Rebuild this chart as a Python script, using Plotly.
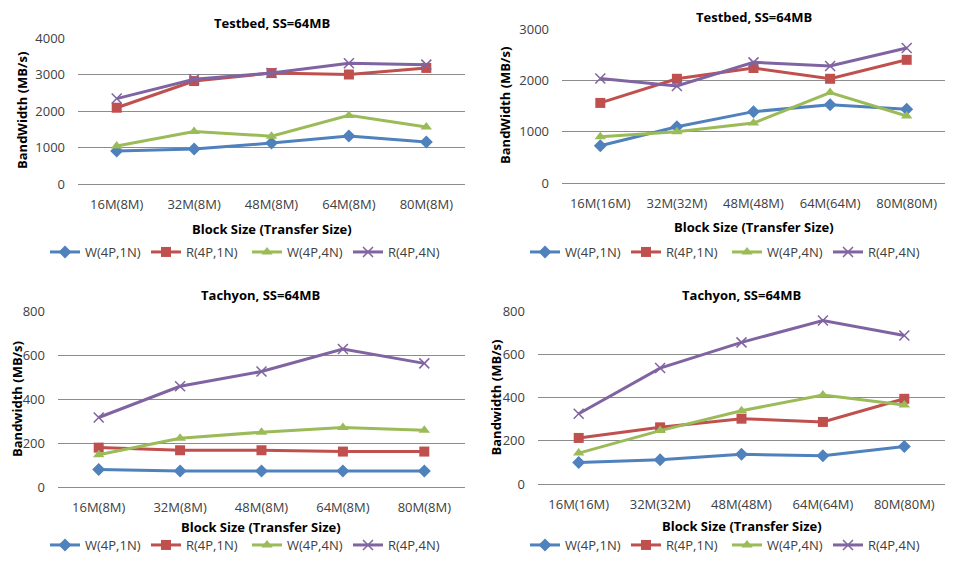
import plotly.graph_objects as go

# ---------------- data ----------------
cats_8m = ["16M(8M)", "32M(8M)", "48M(8M)", "64M(8M)", "80M(8M)"]
cats_eq = ["16M(16M)", "32M(32M)", "48M(48M)", "64M(64M)", "80M(80M)"]
series_names = ["W(4P,1N)", "R(4P,1N)", "W(4P,4N)", "R(4P,4N)"]

# Testbed, transfer 8M
tb8_w1n = [905, 960, 1120, 1315, 1150]
tb8_r1n = [2090, 2820, 3040, 3000, 3180]
tb8_w4n = [1040, 1440, 1310, 1880, 1560]
tb8_r4n = [2340, 2870, 3040, 3310, 3270]

# Testbed, transfer = block
tbeq_w1n = [724, 1096, 1390, 1526, 1435]
tbeq_r1n = [1560, 2030, 2240, 2030, 2400]
tbeq_w4n = [900, 998, 1168, 1761, 1305]
tbeq_r4n = [2035, 1890, 2350, 2280, 2630]

# Tachyon, transfer 8M
ta8_w1n = [79, 73, 73, 73, 73]
ta8_r1n = [179, 167, 167, 161, 161]
ta8_w4n = [147, 222, 249, 270, 258]
ta8_r4n = [316, 458, 525, 627, 562]

# Tachyon, transfer = block
taeq_w1n = [100, 112, 137, 131, 173]
taeq_r1n = [213, 262, 302, 287, 394]
taeq_w4n = [143, 247, 339, 411, 365]
taeq_r4n = [325, 536, 655, 756, 687]

y_ticks_tb8 = [0, 1000, 2000, 3000, 4000]
y_ticks_tbeq = [0, 1000, 2000, 3000]
y_ticks_ta = [0, 200, 400, 600, 800]

# ---------------- style ----------------
OFF = 8  # page body margin
W, H = 960 - 2 * OFF, 565 - 2 * OFF
colors = ["#4F81BD", "#C0504D", "#9BBB59", "#8064A2"]
symbols = ["diamond", "square", "triangle-up", "x-thin"]
msizes = [10, 10, 10, 10]
FONT = "Open Sans"
GRID = "#8c8c8c"
TXT = "#404040"


def px(x):
    return (x - OFF) / W


def py(y):
    return 1 - (y - OFF) / H


panels = [
    dict(cats=cats_8m, data=[tb8_w1n, tb8_r1n, tb8_w4n, tb8_r4n], ymax=4000, ticks=y_ticks_tb8,
         xd=(78, 465), yd=(38, 184), title="Testbed,  SS=64MB", ytitle="BandWidth  (MB/s)",
         ty=23, xty=229, ly=252, ytx=22, lx=45),
    dict(cats=cats_eq, data=[tbeq_w1n, tbeq_r1n, tbeq_w4n, tbeq_r4n], ymax=3000, ticks=y_ticks_tbeq,
         xd=(562, 945), yd=(29, 183), title="Testbed,  SS=64MB", ytitle="BandWidth  (MB/s)",
         ty=17, xty=227, ly=252, ytx=505, lx=525),
    dict(cats=cats_8m, data=[ta8_w1n, ta8_r1n, ta8_w4n, ta8_r4n], ymax=800, ticks=y_ticks_ta,
         xd=(58, 465), yd=(311, 487), title="Tachyon,  SS=64MB", ytitle="Bandwidth  (MB/s)",
         ty=295, xty=527, ly=545, ytx=17, lx=45),
    dict(cats=cats_eq, data=[taeq_w1n, taeq_r1n, taeq_w4n, taeq_r4n], ymax=800, ticks=y_ticks_ta,
         xd=(538, 945), yd=(311, 484), title="Tachyon,  SS=64MB", ytitle="Bandwidth  (MB/s)",
         ty=295, xty=526, ly=545, ytx=495, lx=525),
]

fig = go.Figure()
annotations = []
layout = {}

for i, p in enumerate(panels):
    n = i + 1
    xa = "x" if n == 1 else f"x{n}"
    ya = "y" if n == 1 else f"y{n}"
    xkey = "xaxis" if n == 1 else f"xaxis{n}"
    ykey = "yaxis" if n == 1 else f"yaxis{n}"
    lkey = "legend" if n == 1 else f"legend{n}"
    for s in range(4):
        fig.add_trace(go.Scatter(
            x=p["cats"], y=p["data"][s], name=series_names[s], mode="lines+markers",
            xaxis=xa, yaxis=ya, legend=lkey,
            line=dict(color=colors[s], width=3),
            marker=dict(symbol=symbols[s], size=msizes[s], color=colors[s],
                        line=dict(color=colors[s], width=1.5 if s == 3 else 0)),
        ))
    layout[xkey] = dict(
        domain=[px(p["xd"][0]), px(p["xd"][1])], anchor=ya, type="category",
        range=[-0.5, 4.5], showgrid=False, zeroline=False, showline=False,
        ticks="", tickangle=0, automargin=False,
        tickfont=dict(family=FONT, size=13, color=TXT), ticklabelstandoff=11,
        fixedrange=True,
    )
    layout[ykey] = dict(
        domain=[py(p["yd"][1]), py(p["yd"][0])], anchor=xa, range=[0, p["ymax"]],
        tickvals=p["ticks"], showgrid=True, gridcolor=GRID, gridwidth=1,
        zeroline=True, zerolinecolor=GRID, zerolinewidth=1, showline=False,
        ticks="", automargin=False,
        tickfont=dict(family=FONT, size=13, color=TXT), ticklabelstandoff=12,
        fixedrange=True,
    )
    layout[lkey] = dict(
        orientation="h", x=px(p["lx"]),
        y=py(p["ly"]), xanchor="left", yanchor="middle",
        entrywidth=56, entrywidthmode="pixels",
        font=dict(family=FONT, size=13, color=TXT), bgcolor="rgba(0,0,0,0)",
        tracegroupgap=0, itemclick=False, itemdoubleclick=False,
    )
    cx = (p["xd"][0] + p["xd"][1]) / 2
    annotations.append(dict(
        text=f"<b>{p['title'].replace('  ', ' ')}</b>", x=px(cx), y=py(p["ty"]),
        xref="paper", yref="paper", showarrow=False, xanchor="center", yanchor="middle",
        font=dict(family=FONT, size=13, color="#000000"),
    ))
    annotations.append(dict(
        text="<b>Block Size (Transfer Size)</b>", x=px(cx), y=py(p["xty"]),
        xref="paper", yref="paper", showarrow=False, xanchor="center", yanchor="middle",
        font=dict(family=FONT, size=13, color="#000000"),
    ))
    annotations.append(dict(
        text=f"<b>{p['ytitle'].replace('  ', ' ')}</b>", x=px(p["ytx"]),
        y=py((p["yd"][0] + p["yd"][1]) / 2),
        xref="paper", yref="paper", showarrow=False, xanchor="center", yanchor="middle",
        textangle=-90, font=dict(family=FONT, size=13, color="#000000"),
    ))

fig.update_layout(
    width=W, height=H, margin=dict(l=0, r=0, t=0, b=0, autoexpand=False),
    paper_bgcolor="white", plot_bgcolor="white",
    font=dict(family=FONT, size=13, color=TXT),
    annotations=annotations, showlegend=True, hovermode=False,
    **layout,
)

fig.write_html("out.html", config={"displayModeBar": False})
